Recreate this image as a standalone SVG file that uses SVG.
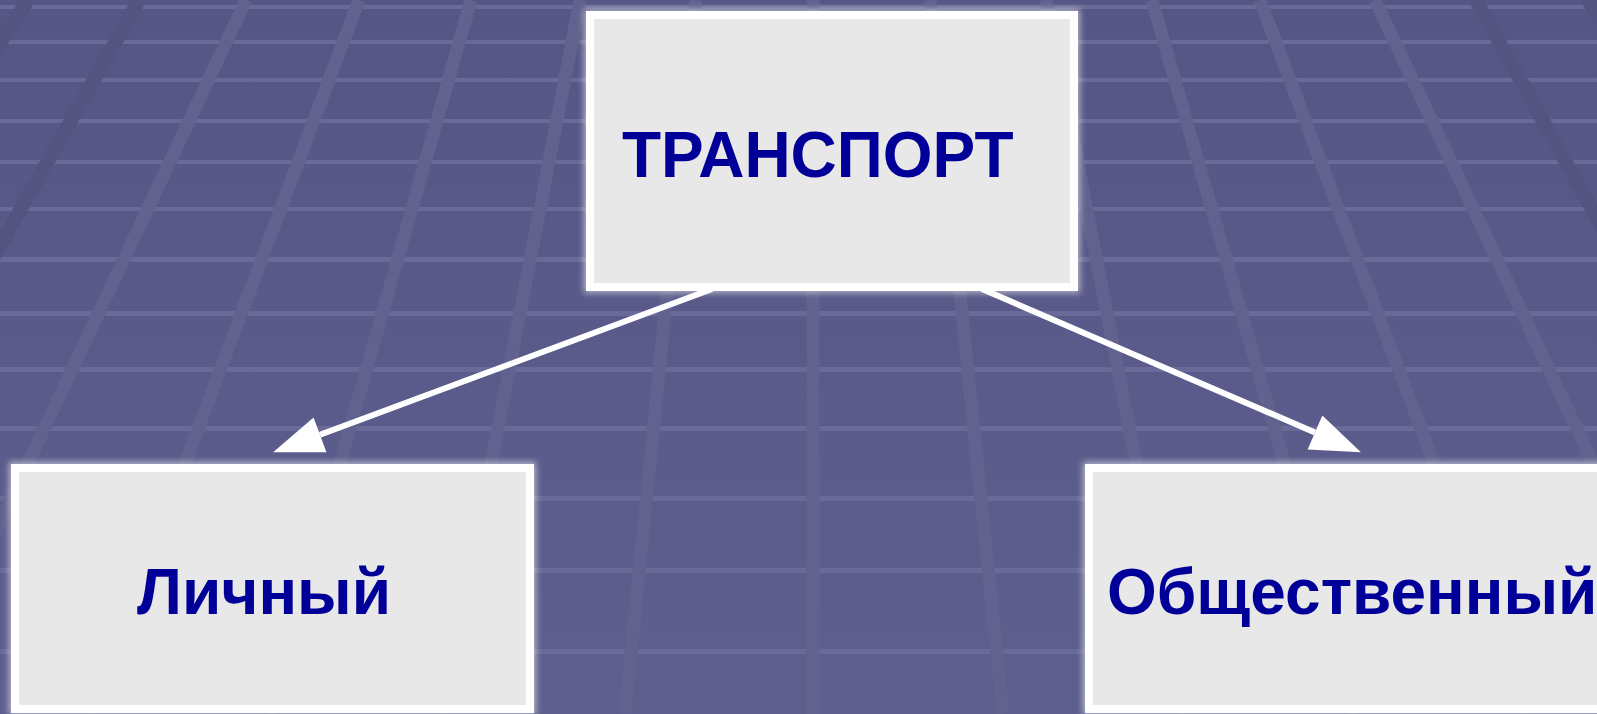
<svg xmlns="http://www.w3.org/2000/svg" width="1597" height="714" viewBox="0 0 1597 714">
<style>
.hs{fill:#6a6a99}
.dl{stroke:#62628f;stroke-width:13}
.dk{stroke:#545480;stroke-width:14}
.glow{fill:none;stroke:#ffffff;stroke-width:12;opacity:0.55;filter:url(#blur)}
.box{fill:#e8e8e8;stroke:#ffffff;stroke-width:8}
.lbl{font-family:"Liberation Sans",Arial,sans-serif;font-weight:bold;font-size:64px;fill:#000099}
.conn{stroke:#ffffff;stroke-width:6;fill:none;marker-end:url(#ah)}
</style>
<defs>
<linearGradient id="bg" x1="0" y1="0" x2="0" y2="1">
<stop offset="0" stop-color="#565686"/>
<stop offset="1" stop-color="#5f5f8f"/>
</linearGradient>
<filter id="blur" x="-10%" y="-10%" width="120%" height="120%"><feGaussianBlur stdDeviation="3"/></filter>
<marker id="ah" markerUnits="userSpaceOnUse" markerWidth="52" markerHeight="40" viewBox="0 -20 52 40" refX="0" refY="0" orient="auto" overflow="visible">
<path d="M0,-18.5 L50,0 L0,18.5 z" fill="#ffffff"/>
</marker>
</defs>
<rect width="1597" height="714" fill="url(#bg)"/>
<g id="grid-h">
<rect class="hs" x="0" y="5" width="1597" height="4"/>
<rect class="hs" x="0" y="40" width="1597" height="4"/>
<rect class="hs" x="0" y="78" width="1597" height="4"/>
<rect class="hs" x="0" y="119" width="1597" height="4"/>
<rect class="hs" x="0" y="160" width="1597" height="4"/>
<rect class="hs" x="0" y="207" width="1597" height="4"/>
<rect class="hs" x="0" y="257" width="1597" height="5"/>
<rect class="hs" x="0" y="311" width="1597" height="5"/>
<rect class="hs" x="0" y="367" width="1597" height="5"/>
<rect class="hs" x="0" y="426" width="1597" height="5"/>
<rect class="hs" x="0" y="496" width="1597" height="5"/>
<rect class="hs" x="0" y="568" width="1597" height="5"/>
<rect class="hs" x="0" y="649" width="1597" height="5"/>
</g>
<g id="grid-d">
<line class="dk" x1="28" y1="0" x2="-440" y2="714"/>
<line class="dk" x1="139" y1="0" x2="-265" y2="714"/>
<line class="dl" x1="246" y1="0" x2="-90" y2="714"/>
<line class="dl" x1="359" y1="0" x2="91" y2="714"/>
<line class="dl" x1="471" y1="0" x2="269" y2="714"/>
<line class="dl" x1="580" y1="0" x2="443" y2="714"/>
<line class="dl" x1="696" y1="0" x2="625" y2="714"/>
<line class="dl" x1="813" y1="0" x2="813" y2="714"/>
<line class="dl" x1="930" y1="0" x2="1003" y2="714"/>
<line class="dl" x1="1046" y1="0" x2="1185" y2="714"/>
<line class="dl" x1="1152" y1="0" x2="1356" y2="714"/>
<line class="dl" x1="1260" y1="0" x2="1528" y2="714"/>
<line class="dl" x1="1375" y1="0" x2="1711" y2="714"/>
<line class="dk" x1="1476" y1="0" x2="1872" y2="714"/>
<line class="dk" x1="1588" y1="0" x2="2051" y2="714"/>
</g>
<g id="connectors">
<line class="conn" x1="712" y1="289" x2="320" y2="434.8"/>
<line class="conn" x1="982" y1="289" x2="1315" y2="432.5"/>
</g>
<g id="node-transport">
<rect class="glow" x="590" y="15" width="484" height="272"/>
<rect class="box" x="590" y="15" width="484" height="272"/>
<text class="lbl" x="622" y="177">ТРАНСПОРТ</text>
</g>
<g id="node-personal">
<rect class="glow" x="15" y="468" width="515" height="241"/>
<rect class="box" x="15" y="468" width="515" height="241"/>
<text class="lbl" x="137" y="614">Личный</text>
</g>
<g id="node-public">
<rect class="glow" x="1089" y="468" width="520" height="241"/>
<rect class="box" x="1089" y="468" width="520" height="241"/>
<text class="lbl" x="1107" y="614">Общественный</text>
</g>
</svg>
